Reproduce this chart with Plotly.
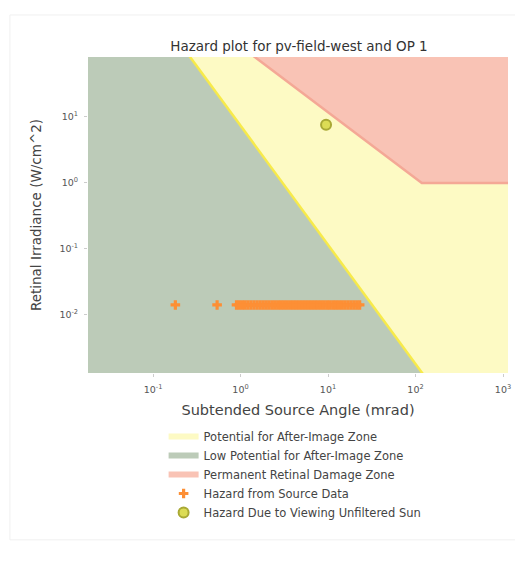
import plotly.graph_objects as go

# Zone boundaries (subtended angle in mrad, retinal irradiance in W/cm^2)
view_box_angle = [0.01, 10000, 10000, 0.01]
view_box_irr = [1e-4, 1e-4, 1000, 1000]

afterimage_angle = [0.066, 498]
afterimage_irr = [1000, 1e-4]

burn_angle = [0.118, 118, 10000]
burn_irr = [1000, 1.0, 1.0]

# Glare hazard from source data
source_angle = [0.18, 0.54, 0.90, 0.97, 1.05, 1.13, 1.22, 1.32, 1.43, 1.55, 1.68,
                1.82, 1.97, 2.13, 2.31, 2.50, 2.71, 2.93, 3.17, 3.43, 3.72, 4.03,
                4.36, 4.72, 5.11, 5.53, 5.99, 6.48, 7.02, 7.60, 8.23, 8.91, 9.65,
                10.4, 11.3, 12.2, 13.2, 14.3, 15.5, 16.8, 18.2, 19.7, 21.3, 23.0]
source_irr = [0.0142] * len(source_angle)

# Unfiltered sun
sun_angle = [9.5]
sun_irr = [7.6]

x_ticks = [0.1, 1, 10, 100, 1000]
x_tick_text = ["10<sup>-1</sup>", "10<sup>0</sup>", "10<sup>1</sup>",
               "10<sup>2</sup>", "10<sup>3</sup>"]
y_ticks = [0.01, 0.1, 1, 10]
y_tick_text = ["10<sup>-2</sup>", "10<sup>-1</sup>", "10<sup>0</sup>", "10<sup>1</sup>"]

x_lo, x_hi = -1.743, 3.057
y_lo, y_hi = -2.879, 1.909

fig = go.Figure()

fig.add_trace(go.Scatter(
    x=view_box_angle, y=view_box_irr, fill="toself", mode="none",
    fillcolor="#fdfac4", name="Potential for After-Image Zone"))

fig.add_trace(go.Scatter(
    x=[view_box_angle[0], view_box_angle[0]] + afterimage_angle + [view_box_angle[0]],
    y=[view_box_irr[0], view_box_irr[2]] + afterimage_irr + [view_box_irr[0]],
    fill="toself", mode="none", fillcolor="#bccbb8",
    name="Low Potential for After-Image Zone"))

fig.add_trace(go.Scatter(
    x=burn_angle + [view_box_angle[1]],
    y=burn_irr + [view_box_irr[2]],
    fill="toself", mode="none", fillcolor="#f9c3b5",
    name="Permanent Retinal Damage Zone"))

# Boundary lines
fig.add_trace(go.Scatter(
    x=afterimage_angle, y=afterimage_irr, mode="lines",
    line=dict(color="#f7ea4a", width=2.5), showlegend=False, hoverinfo="skip"))
fig.add_trace(go.Scatter(
    x=burn_angle, y=burn_irr, mode="lines",
    line=dict(color="#f4a896", width=2.5), showlegend=False, hoverinfo="skip"))

fig.add_trace(go.Scatter(
    x=source_angle, y=source_irr, mode="markers",
    marker=dict(symbol="cross", size=8, color="#fd8f35", line=dict(width=0)),
    name="Hazard from Source Data"))

fig.add_trace(go.Scatter(
    x=sun_angle, y=sun_irr, mode="markers",
    marker=dict(symbol="circle", size=10, color="#dcdc55",
                line=dict(color="#a9a935", width=2)),
    name="Hazard Due to Viewing Unfiltered Sun"))

font_family = "DejaVu Sans"

fig.update_layout(
    width=515, height=576,
    margin=dict(l=88, r=7, t=57, b=203),
    paper_bgcolor="white", plot_bgcolor="white",
    font=dict(family=font_family, color="#333333"),
    title=dict(text="Hazard plot for pv-field-west and OP 1",
               x=299 / 515, xanchor="center", y=1 - 46 / 576, yanchor="middle",
               font=dict(size=13.5, color="#333333")),
    showlegend=True,
    legend=dict(x=0.18, y=-0.155, xanchor="left", yanchor="top",
                bgcolor="rgba(255,255,255,0)", font=dict(size=11.5, color="#444444"),
                tracegroupgap=0, itemwidth=30),
    shapes=[dict(type="rect", xref="paper", yref="paper",
                 x0=-0.186, x1=1.05, y0=-0.528, y1=1.133,
                 line=dict(color="#f0f0f0", width=1), layer="below")],
)

fig.update_xaxes(
    type="log", range=[x_lo, x_hi], showgrid=False, zeroline=False,
    showline=False, ticks="outside", ticklen=3, tickcolor="#cccccc",
    tickvals=x_ticks, ticktext=x_tick_text, automargin=False,
    ticklabelstandoff=5,
    tickfont=dict(size=9.5, color="#555555"),
    title=dict(text="Subtended Source Angle (mrad)", standoff=10,
               font=dict(size=14.5, color="#444444")))

fig.update_yaxes(
    type="log", range=[y_lo, y_hi], showgrid=False, zeroline=False,
    showline=False, ticks="outside", ticklen=3, tickcolor="#cccccc",
    tickvals=y_ticks, ticktext=y_tick_text, automargin=False,
    ticklabelstandoff=4,
    tickfont=dict(size=9.5, color="#555555"),
    title=dict(text="Retinal Irradiance (W/cm^2)", standoff=14,
               font=dict(size=13.5, color="#444444")))

fig.write_html("out.html")
